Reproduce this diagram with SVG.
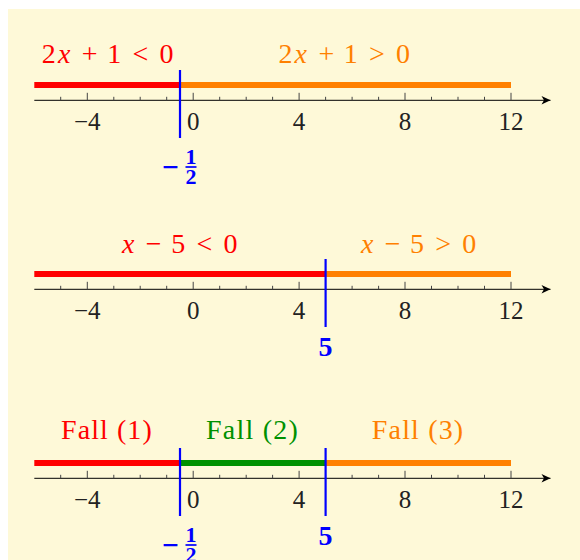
<svg xmlns="http://www.w3.org/2000/svg" xmlns:xlink="http://www.w3.org/1999/xlink" width="580" height="560" viewBox="0 0 580 560">
  <style>
    .lbl { font-family: "Liberation Serif", "Times New Roman", serif; font-size: 25px; fill: #222; text-anchor: middle; }
    .ttl { font-family: "Liberation Serif", "Times New Roman", serif; font-size: 28px; text-anchor: middle; }
    .it { font-style: italic; }
    .bl  { font-family: "Liberation Serif", "Times New Roman", serif; font-weight: bold; fill: #0000ff; text-anchor: middle; }
    .mn  { font-family: "DejaVu Serif", "Liberation Serif", serif; font-weight: bold; fill: #0000ff; text-anchor: middle; font-size: 22px; }
    .axis { stroke: #000; stroke-width: 1; fill: none; }
    .tick { stroke: #444; stroke-width: 1; fill: none; }
    .bar { stroke-width: 6; fill: none; stroke-linecap: butt; }
    .sep { stroke: #0000ff; stroke-width: 2.2; }
    .red { fill: #ff0000; }
    .org { fill: #ff8000; }
    .grn { fill: #009100; }
  </style>
  <defs>
    <marker id="arrow" viewBox="-10 -5 11 10" refX="0" refY="0" markerWidth="11" markerHeight="10" markerUnits="userSpaceOnUse" orient="auto">
      <path d="M0,0 L-9,-4.3 L-6.5,0 L-9,4.3 Z" fill="#000"/>
    </marker>
    <g id="axis">
      <line class="axis" x1="34.3" y1="0" x2="550.5" y2="0" marker-end="url(#arrow)"/>
      <path class="tick" d="M60.7,0v-3.5 M113.8,0v-3.5 M140.2,0v-3.5 M166.7,0v-3.5 M219.7,0v-3.5 M246.2,0v-3.5 M272.6,0v-3.5 M325.6,0v-3.5 M352.1,0v-3.5 M378.6,0v-3.5 M431.5,0v-3.5 M458,0v-3.5 M484.5,0v-3.5"/>
      <path class="tick" d="M87.3,0v-7.5 M193.2,0v-7.5 M299.1,0v-7.5 M405,0v-7.5 M511,0v-7.5"/>
      <text class="lbl" x="87.3" y="30.2">−4</text>
      <text class="lbl" x="193.2" y="30.2">0</text>
      <text class="lbl" x="299.1" y="30.2">4</text>
      <text class="lbl" x="405" y="30.2">8</text>
      <text class="lbl" x="511" y="30.2">12</text>
    </g>
    <g id="half">
      <text class="mn" x="170.5" y="73.7">−</text>
      <text class="bl" x="191" y="64" style="font-size:22px">1</text>
      <line x1="185.5" y1="66.7" x2="196.5" y2="66.7" stroke="#0000ff" stroke-width="1.7"/>
      <text class="bl" x="191" y="84" style="font-size:22px">2</text>
    </g>
    <g id="five">
      <text class="bl" x="325.6" y="67" style="font-size:28px">5</text>
    </g>
  </defs>

  <rect id="background" x="8" y="9" width="572" height="551" fill="#fef9d8"/>

  <g id="panel1" transform="translate(0,100.3)">
    <g id="bars1">
      <line class="bar" x1="34.3" y1="-15.2" x2="180" y2="-15.2" stroke="#ff0000"/>
      <line class="bar" x1="180" y1="-15.2" x2="511" y2="-15.2" stroke="#ff8000"/>
    </g>
    <use xlink:href="#axis" href="#axis"/>
    <line class="sep" x1="180" y1="-30.3" x2="180" y2="37.7"/>
    <use xlink:href="#half" href="#half"/>
    <text class="ttl red" y="-37"><tspan x="48.8">2</tspan><tspan class="it" x="64.1">x</tspan><tspan x="89.7">+</tspan><tspan x="114.2">1</tspan><tspan x="140.3">&lt;</tspan><tspan x="166.5">0</tspan></text>
    <text class="ttl org" y="-37"><tspan x="285.4">2</tspan><tspan class="it" x="300.7">x</tspan><tspan x="326.3">+</tspan><tspan x="350.8">1</tspan><tspan x="376.9">&gt;</tspan><tspan x="403.1">0</tspan></text>
  </g>

  <g id="panel2" transform="translate(0,289.3)">
    <g id="bars2">
      <line class="bar" x1="34.3" y1="-15.2" x2="325.6" y2="-15.2" stroke="#ff0000"/>
      <line class="bar" x1="325.6" y1="-15.2" x2="511" y2="-15.2" stroke="#ff8000"/>
    </g>
    <use xlink:href="#axis" href="#axis"/>
    <line class="sep" x1="325.6" y1="-30.3" x2="325.6" y2="37.7"/>
    <use xlink:href="#five" href="#five"/>
    <text class="ttl red" y="-36.6"><tspan class="it" x="128.2">x</tspan><tspan x="153.7">−</tspan><tspan x="178.2">5</tspan><tspan x="204.3">&lt;</tspan><tspan x="230.4">0</tspan></text>
    <text class="ttl org" y="-36.6"><tspan class="it" x="367.1">x</tspan><tspan x="392.6">−</tspan><tspan x="417.1">5</tspan><tspan x="443.2">&gt;</tspan><tspan x="469.3">0</tspan></text>
  </g>

  <g id="panel3" transform="translate(0,478.3)">
    <g id="bars3">
      <line class="bar" x1="34.3" y1="-15.2" x2="180" y2="-15.2" stroke="#ff0000"/>
      <line class="bar" x1="180" y1="-15.2" x2="325.6" y2="-15.2" stroke="#009100"/>
      <line class="bar" x1="325.6" y1="-15.2" x2="511" y2="-15.2" stroke="#ff8000"/>
    </g>
    <use xlink:href="#axis" href="#axis"/>
    <line class="sep" x1="180" y1="-30.3" x2="180" y2="37.7"/>
    <line class="sep" x1="325.6" y1="-30.3" x2="325.6" y2="37.7"/>
    <use xlink:href="#half" href="#half"/>
    <use xlink:href="#five" href="#five"/>
    <text class="ttl red" x="106.4" y="-39" textLength="90.7" lengthAdjust="spacing">Fall (1)</text>
    <text class="ttl grn" x="251.9" y="-39" textLength="91.8" lengthAdjust="spacing">Fall (2)</text>
    <text class="ttl org" x="417.5" y="-39" textLength="91.4" lengthAdjust="spacing">Fall (3)</text>
  </g>
</svg>
